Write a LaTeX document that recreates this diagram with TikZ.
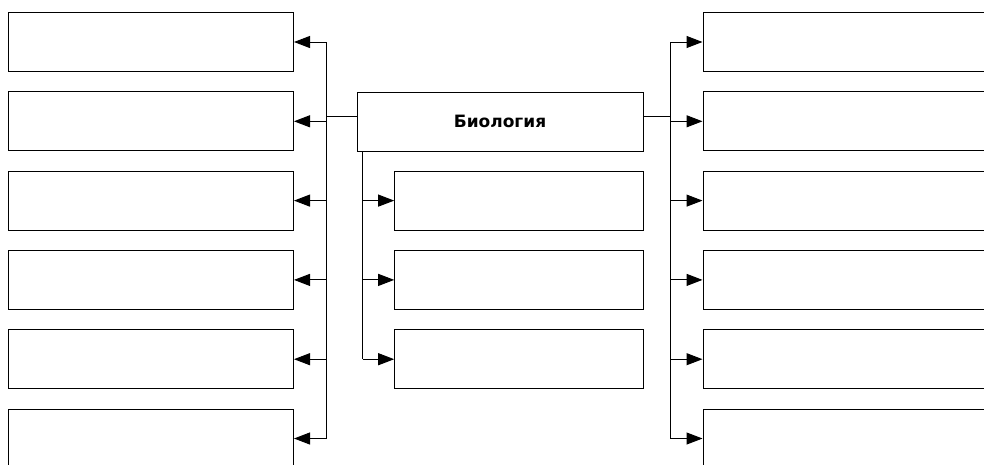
\documentclass[tikz,border=0pt]{standalone}
\usepackage{fontspec}
\setmainfont{DejaVu Sans}
\usetikzlibrary{arrows.meta}
\begin{document}
\begin{tikzpicture}[x=1pt,y=-1pt,
 box/.style={draw,line width=1pt,rectangle,inner sep=0pt,minimum height=59pt},
 wide/.style={box,minimum width=285pt},
 narrow/.style={box,minimum width=248.6pt},
 arr/.style={line width=1pt,-{Triangle[length=16pt,width=12pt]}},
 bus/.style={line width=1pt}]
 \useasboundingbox (0,0) rectangle (984,464);
 % left column
 \node[wide] (l1) at (151,42) {};
 \node[wide] (l2) at (151,121.3) {};
 \node[wide] (l3) at (151,200.6) {};
 \node[wide] (l4) at (151,279.9) {};
 \node[wide] (l5) at (151,359.2) {};
 \node[wide] (l6) at (151,438.5) {};
 % right column
 \node[wide] (r1) at (845.5,42) {};
 \node[wide] (r2) at (845.5,121.3) {};
 \node[wide] (r3) at (845.5,200.6) {};
 \node[wide] (r4) at (845.5,279.9) {};
 \node[wide] (r5) at (845.5,359.2) {};
 \node[wide] (r6) at (845.5,438.5) {};
 % middle
 \node[box,minimum width=286pt,font=\bfseries\fontsize{17}{17}\selectfont] (bio) at (500,121.5) {Биология};
 \node[narrow] (s1) at (519,200.6) {};
 \node[narrow] (s2) at (519,279.9) {};
 \node[narrow] (s3) at (519,359.2) {};
 \coordinate (lbus) at (326.7,116);
 \coordinate (rbus) at (670,116);
 \coordinate (trunk) at (362.7,151);
 % buses
 \draw[bus] (bio.west |- lbus) -- (lbus);
 \draw[bus] (bio.east |- rbus) -- (rbus);
 \draw[bus] (lbus |- l1) -- (lbus |- l6);
 \draw[bus] (rbus |- r1) -- (rbus |- r6);
 \draw[bus] (trunk |- bio.south) -- (trunk |- s3);
 % arrows
 \draw[arr] (lbus |- l1) -- (l1.east);
 \draw[arr] (lbus |- l2) -- (l2.east);
 \draw[arr] (lbus |- l3) -- (l3.east);
 \draw[arr] (lbus |- l4) -- (l4.east);
 \draw[arr] (lbus |- l5) -- (l5.east);
 \draw[arr] (lbus |- l6) -- (l6.east);
 \draw[arr] (rbus |- r1) -- (r1.west);
 \draw[arr] (rbus |- r2) -- (r2.west);
 \draw[arr] (rbus |- r3) -- (r3.west);
 \draw[arr] (rbus |- r4) -- (r4.west);
 \draw[arr] (rbus |- r5) -- (r5.west);
 \draw[arr] (rbus |- r6) -- (r6.west);
 \draw[arr] (trunk |- s1) -- (s1.west);
 \draw[arr] (trunk |- s2) -- (s2.west);
 \draw[arr] (trunk |- s3) -- (s3.west);
\end{tikzpicture}
\end{document}
